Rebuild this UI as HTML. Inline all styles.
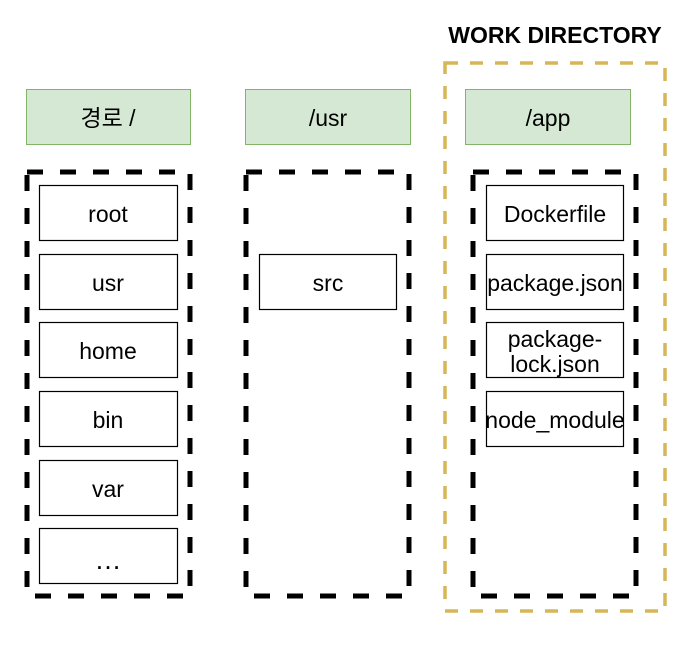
<!DOCTYPE html>
<html><head><style>body{margin:0;background:#fff}svg{display:block}</style></head><body>
<svg width="696" height="650" xmlns="http://www.w3.org/2000/svg" font-family="Liberation Sans, Noto Sans CJK KR, sans-serif">
<rect width="696" height="650" fill="#fff"/>
<text x="555" y="43" text-anchor="middle" font-size="23" font-weight="bold">WORK DIRECTORY</text>
<rect x="445" y="63" width="220" height="548" fill="none" stroke="#d6b656" stroke-width="3.5" stroke-dasharray="13,12"/>
<g fill="#d5e8d4" stroke="#82b366" stroke-width="1">
<rect x="26.5" y="89.5" width="164" height="55"/>
<rect x="245.5" y="89.5" width="165" height="55"/>
<rect x="465.5" y="89.5" width="165" height="55"/>
</g>
<g font-size="23" text-anchor="middle">
<text x="108" y="126">경로 /</text>
<text x="328" y="126">/usr</text>
<text x="548" y="126">/app</text>
</g>
<g fill="none" stroke="#000" stroke-width="5" stroke-dasharray="16,17">
<rect x="27" y="172" width="163" height="424"/>
<rect x="246" y="172" width="163" height="424"/>
<rect x="473" y="172" width="163" height="424"/>
</g>
<g fill="#fff" stroke="#000" stroke-width="1.2">
<rect x="39.5" y="185.5" width="138" height="55"/>
<rect x="39.5" y="254.5" width="138" height="55"/>
<rect x="39.5" y="322.5" width="138" height="55"/>
<rect x="39.5" y="391.5" width="138" height="55"/>
<rect x="39.5" y="460.5" width="138" height="55"/>
<rect x="39.5" y="528.5" width="138" height="55"/>
<rect x="259.5" y="254.5" width="137" height="55"/>
<rect x="486.5" y="185.5" width="137" height="55"/>
<rect x="486.5" y="254.5" width="137" height="55"/>
<rect x="486.5" y="322.5" width="137" height="55"/>
<rect x="486.5" y="391.5" width="137" height="55"/>
</g>
<g font-size="23" text-anchor="middle">
<text x="108" y="222">root</text>
<text x="108" y="291">usr</text>
<text x="108" y="359">home</text>
<text x="108" y="428">bin</text>
<text x="108" y="497">var</text>
<text x="108" y="569" font-size="27">…</text>
<text x="328" y="291">src</text>
<text x="555" y="222">Dockerfile</text>
<text x="555" y="291">package.json</text>
<text x="555" y="347">package-</text>
<text x="555" y="372">lock.json</text>
<text x="555" y="428">node_module</text>
</g>
</svg>
</body></html>
